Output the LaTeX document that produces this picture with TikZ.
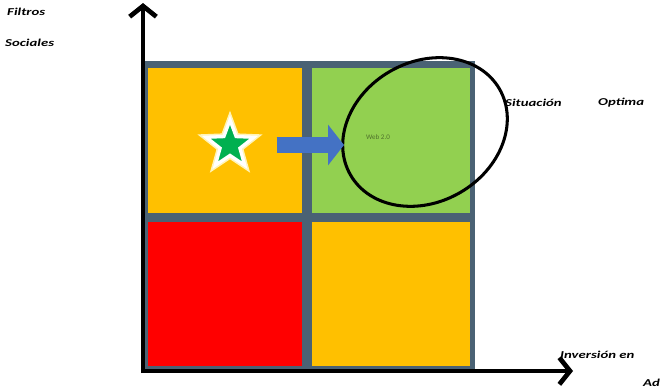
\documentclass[tikz,border=0pt]{standalone}
\usepackage{fontspec}
\setmainfont{Carlito}
\newfontfamily\labelfont{Carlito}[FakeStretch=1.4]
\usetikzlibrary{arrows.meta,positioning,shapes.geometric}
\definecolor{quadorange}{HTML}{FFC000}
\definecolor{quadgreen}{HTML}{92D050}
\definecolor{quadred}{HTML}{FF0000}
\definecolor{gridslate}{HTML}{4A6274}
\definecolor{arrowblue}{HTML}{4472C4}
\definecolor{stargreen}{HTML}{00B050}
\definecolor{glow}{HTML}{FFF4B8}
\tikzset{
  axisline/.style={line width=4pt,-{Straight Barb[length=0.32cm,width=0.8cm]}},
  axislabel/.style={font=\labelfont\fontsize{9}{10}\selectfont\bfseries\itshape,
                    anchor=west,inner sep=0pt},
  starnode/.style={star,star points=5,star point ratio=2.4,fill=stargreen,
                   draw=white,line width=2.8pt,minimum size=1.5cm,inner sep=0pt,
                   preaction={draw=glow,line width=5.5pt}},
  goalring/.style={ellipse,draw=black,line width=2.6pt,minimum width=5.16cm,
                   minimum height=4.2cm,inner sep=0pt},
  blockarr/.style={line width=0.48cm,color=arrowblue,
                   -{Triangle[length=0.48cm,width=1.2cm]}},
  goaltext/.style={font=\fontsize{6}{7}\selectfont,text=black!45!quadgreen,inner sep=0pt}
}
\begin{document}
\begin{tikzpicture}[x=0.03cm,y=-0.03cm]
  \useasboundingbox (0,0) rectangle (665,390);
  \fill[white] (0,0) rectangle (665,390);
  \fill[gridslate] (142,61) rectangle (475,370);
  \foreach \xa/\ya/\xb/\yb/\col in {148/68/302/213/quadorange,312/68/470/213/quadgreen,
                                    148/222/302/366/quadred,312/222/470/366/quadorange} {
    \fill[\col] (\xa,\ya) rectangle (\xb,\yb);
  }
  \coordinate (origin) at (143,371);
  \coordinate (ytip) at (143,3);
  \coordinate (xtip) at (573,371);
  \draw[axisline] ([yshift=-0.06cm]origin) -- (ytip);
  \draw[axisline] ([xshift=-0.06cm]origin) -- (xtip);
  \node[starnode] (star) at (230,145) {};
  \node[goalring,rotate=30] (goal) at (425,132) {};
  \coordinate (tip) at (344,145);
  \draw[blockarr,shorten <=1.4cm] (star.center) -- (tip);
  \node[goaltext] (goaltxt) at (378,137) {Web 2.0};
  \node[axislabel] (filtros) at (7,12) {Filtros};
  \node[axislabel] (sociales) at (5,43) {Sociales};
  \node[axislabel] (situacion) at (505,103) {Situación};
  \node[axislabel] (optima) at (598,103) {Optima};
  \node[axislabel] (inversion) at (560,355) {Inversión en};
  \node[axislabel] (ad) at (643,383) {Ad};
\end{tikzpicture}
\end{document}
